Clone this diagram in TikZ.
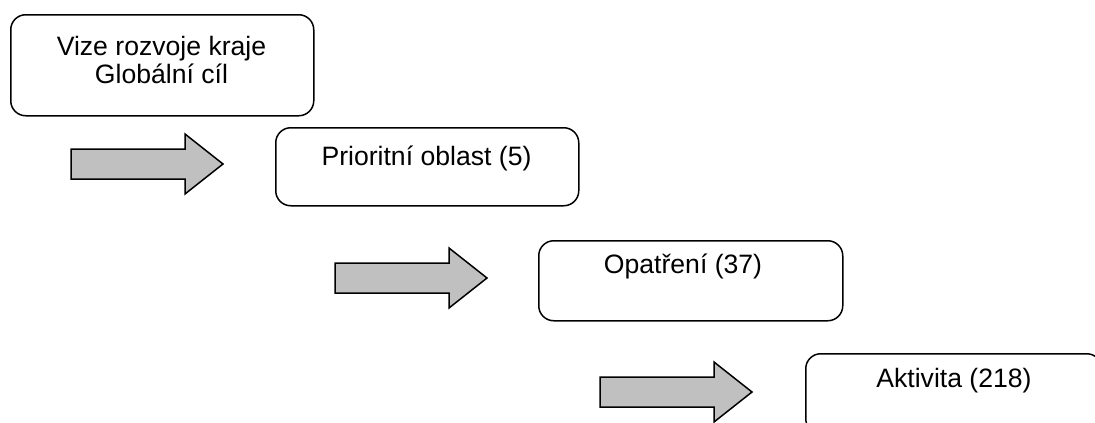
\documentclass[tikz,border=0pt]{standalone}
\usepackage{fontspec}
\setmainfont{Liberation Sans}
\begin{document}
\begin{tikzpicture}[x=1pt,y=-1pt,
  levelbox/.style={draw=black,line width=1.5pt,rounded corners=15pt,inner sep=0pt,
    minimum width=303pt,anchor=north west},
  lbl/.style={inner sep=0pt,anchor=base,font=\fontsize{26.6}{30}\selectfont},
  bigarrow/.style={draw=black,line width=1.5pt,fill={rgb,255:red,192;green,192;blue,192},line join=miter}]
\useasboundingbox (0,0) rectangle (1095,423);
\clip (0,0) rectangle (1095,423);
% boxes
\node[levelbox,minimum height=101pt] (b1) at (10,14) {};
\node[levelbox,minimum height=78pt]  (b2) at (275,127) {};
\node[levelbox,minimum height=80pt,minimum width=304pt] (b3) at (538,240) {};
\node[levelbox,minimum height=80pt,minimum width=296pt] (b4) at (805,353) {};
% labels
\node[lbl] (t1a) at (161.5,55) {Vize rozvoje kraje};
\node[lbl] (t1b) at (161.5,83) {Globální cíl};
\node[lbl] (t2) at (426.5,165) {Prioritní oblast (5)};
\node[lbl] (t3) at (683,273) {Opatření (37)};
\node[lbl] (t4) at (954,387) {Aktivita (218)};
% block arrows
\foreach \ax/\ay in {71/164,335/278,600/392}{
  \draw[bigarrow] (\ax,\ay) ++(0,-15) -- ++(114,0) -- ++(0,-15) -- ++(38,30)
    -- ++(-38,30) -- ++(0,-15) -- ++(-114,0) -- cycle;
}
\end{tikzpicture}
\end{document}
